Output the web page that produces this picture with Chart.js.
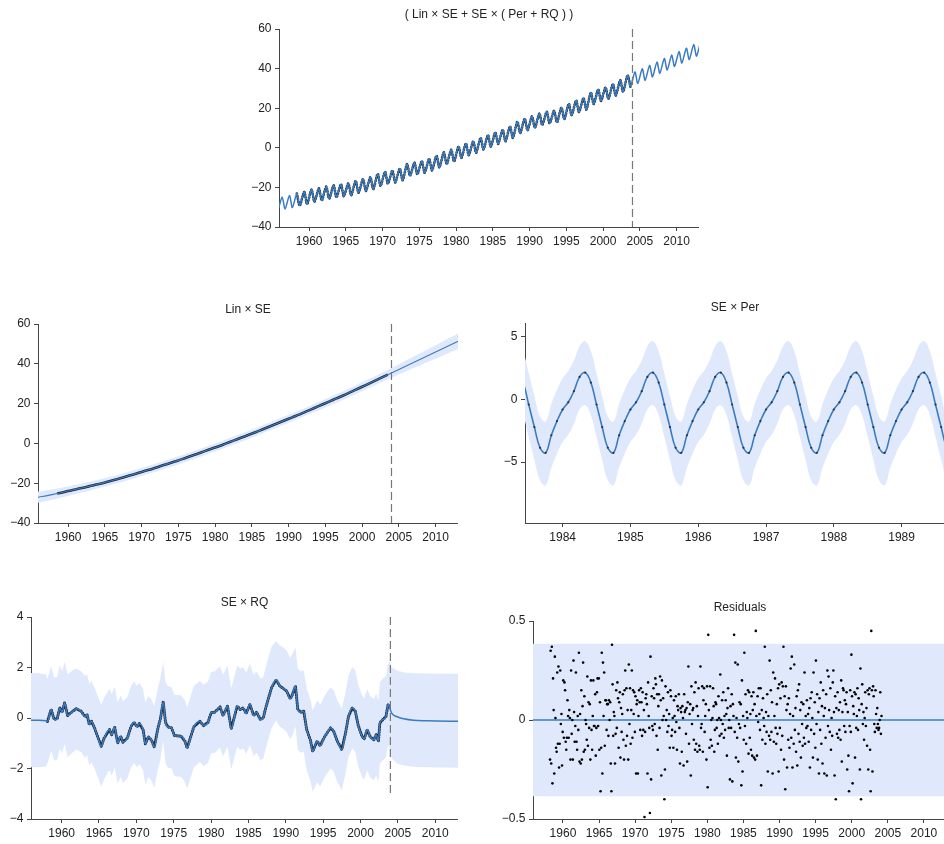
<!DOCTYPE html>
<html>
<head>
<meta charset="utf-8">
<script src="https://cdn.jsdelivr.net/npm/chart.js@4.4.1/dist/chart.umd.min.js"></script>
<style>
  html, body { margin: 0; padding: 0; background: #fff; }
  body { width: 944px; height: 844px; position: relative; overflow: hidden; }
  canvas { position: absolute; }
</style>
</head>
<body>
<canvas id="full"></canvas>
<canvas id="lin"></canvas>
<canvas id="per"></canvas>
<canvas id="rq"></canvas>
<canvas id="res"></canvas>
<script>
// ------------ DATA ------------

const YEAR_TICKS = [1960, 1965, 1970, 1975, 1980, 1985, 1990, 1995, 2000, 2005, 2010];
const BIG_Y_TICKS = [-40, -20, 0, 20, 40, 60];
const PER_X_TICKS = [1984, 1985, 1986, 1987, 1988, 1989];
const PER_Y_TICKS = [-5, 0, 5];
const RQ_Y_TICKS = [-4, -2, 0, 2, 4];
const RES_Y_TICKS = [-0.5, 0, 0.5];

const OBS_START = 1958.2;
const OBS_END = 2004.0;
const FORECAST_START = 2004;

// full model: one seasonal peak (May) and one trough (Sep/Oct) per year, from 1955
const FULL_FIRST_YEAR = 1955;
const PEAK_PHASE = 0.33;
const TROUGH_PHASE = 0.72;
const FULL_PEAK = [-25.4, -24.8, -24.1, -23.1, -22.3, -21.1, -20.5, -19.6, -19.0, -18.4,
  -18.0, -16.7, -15.8, -14.9, -13.2, -12.1, -11.5, -10.5, -8.2, -7.5,
  -6.7, -5.5, -4.0, -2.3, -1.0, 0.7, 2.2, 3.3, 5.0, 6.4,
  7.8, 9.1, 10.8, 13.2, 14.7, 15.9, 17.3, 18.2, 18.7, 20.3,
  22.2, 23.9, 25.1, 27.9, 29.5, 30.5, 32.2, 34.1, 36.6, 38.3,
  39.9, 41.6, 43.3, 45.1, 46.8, 48.6, 50.3, 52.1, 53.8];
const FULL_TROUGH = [-31.5, -30.9, -30.2, -29.2, -28.4, -27.2, -26.6, -25.7, -25.0, -24.4,
  -24.0, -22.7, -21.8, -20.9, -19.2, -18.1, -17.5, -16.4, -14.1, -13.4,
  -12.6, -11.4, -9.9, -8.2, -6.9, -5.1, -3.7, -2.5, -0.8, 0.6,
  2.0, 3.3, 5.0, 7.4, 8.9, 10.1, 11.5, 12.4, 12.9, 14.5,
  16.5, 18.1, 19.3, 22.1, 23.7, 24.7, 26.4, 28.3, 30.9, 32.5,
  34.1, 35.8, 37.6, 39.3, 41.1, 42.8, 44.6, 46.3, 48.1];

// Lin x SE: mid-year values from 1955.5
const TREND_START = 1955.5;
const TREND = [-27.3, -26.7, -26.0, -25.2, -24.4, -23.5, -22.7, -21.9, -21.0, -20.1,
  -19.1, -18.1, -17.1, -16.0, -14.9, -13.8, -12.7, -11.5, -10.3, -9.1,
  -7.9, -6.6, -5.3, -4.0, -2.7, -1.4, 0.0, 1.4, 2.8, 4.2,
  5.6, 7.1, 8.6, 10.1, 11.6, 13.1, 14.6, 16.2, 17.8, 19.4,
  21.0, 22.6, 24.2, 25.9, 27.6, 29.3, 31.05, 32.8, 34.55, 36.3,
  38.05, 39.8, 41.55, 43.3, 45.05, 46.8, 48.55, 50.3, 52.05];
const LIN_BAND_YEARS = [1955, 1958, 1962, 1966, 1970, 1974, 1978, 1982, 1986, 1990, 1994, 1998, 2002, 2005, 2009, 2014];
const LIN_HI = [-24.7, -23.0, -20.0, -16.5, -12.35, -7.7, -2.65, 2.7, 8.35, 14.35, 20.7, 27.25, 34.2, 39.8, 47.4, 57.0];
const LIN_LO = [-30.5, -28.2, -24.6, -20.7, -16.35, -11.7, -6.65, -1.3, 4.35, 10.35, 16.5, 22.85, 29.6, 34.6, 41.0, 49.0];

// SE x Per: monthly values from May 1983
const PER_START = 1983 + 4 / 12;
const PER_MID = [2.14, 1.35, -0.40, -2.20, -3.85, -4.25, -2.85, -1.72,
  -0.80, -0.22, 0.66, 1.80, 2.14, 1.35, -0.40, -2.20, -3.85, -4.25, -2.85, -1.72,
  -0.80, -0.22, 0.66, 1.80, 2.14, 1.35, -0.40, -2.20, -3.85, -4.25, -2.85, -1.72,
  -0.80, -0.22, 0.66, 1.80, 2.14, 1.35, -0.40, -2.20, -3.85, -4.25, -2.85, -1.72,
  -0.80, -0.22, 0.66, 1.80, 2.14, 1.35, -0.40, -2.20, -3.85, -4.25, -2.85, -1.72,
  -0.80, -0.22, 0.66, 1.80, 2.14, 1.35, -0.40, -2.20, -3.85, -4.25, -2.85, -1.72,
  -0.80, -0.22, 0.66, 1.80, 2.14, 1.35, -0.40, -2.20, -3.85, -4.25];
const PER_HI = [4.65, 3.85, 2.10, 0.30, -1.35, -1.75, -0.35, 0.78,
  1.70, 2.28, 3.10, 4.25, 4.65, 3.85, 2.10, 0.30, -1.35, -1.75, -0.35, 0.78,
  1.70, 2.28, 3.10, 4.25, 4.65, 3.85, 2.10, 0.30, -1.35, -1.75, -0.35, 0.78,
  1.70, 2.28, 3.10, 4.25, 4.65, 3.85, 2.10, 0.30, -1.35, -1.75, -0.35, 0.78,
  1.70, 2.28, 3.10, 4.25, 4.65, 3.85, 2.10, 0.30, -1.35, -1.75, -0.35, 0.78,
  1.70, 2.28, 3.10, 4.25, 4.65, 3.85, 2.10, 0.30, -1.35, -1.75, -0.35, 0.78,
  1.70, 2.28, 3.10, 4.25, 4.65, 3.85, 2.10, 0.30, -1.35, -1.75];
const PER_LO = [-0.46, -1.25, -3.00, -4.80, -6.45, -6.85, -5.45, -4.32,
  -3.40, -2.82, -1.94, -0.80, -0.46, -1.25, -3.00, -4.80, -6.45, -6.85, -5.45, -4.32,
  -3.40, -2.82, -1.94, -0.80, -0.46, -1.25, -3.00, -4.80, -6.45, -6.85, -5.45, -4.32,
  -3.40, -2.82, -1.94, -0.80, -0.46, -1.25, -3.00, -4.80, -6.45, -6.85, -5.45, -4.32,
  -3.40, -2.82, -1.94, -0.80, -0.46, -1.25, -3.00, -4.80, -6.45, -6.85, -5.45, -4.32,
  -3.40, -2.82, -1.94, -0.80, -0.46, -1.25, -3.00, -4.80, -6.45, -6.85, -5.45, -4.32,
  -3.40, -2.82, -1.94, -0.80, -0.46, -1.25, -3.00, -4.80, -6.45, -6.85];

// SE x RQ
const RQ_YEARS = [1955.5, 1957.0, 1957.9, 1958.1, 1958.6, 1959.0, 1959.4, 1959.75, 1960.06, 1960.4,
  1960.8, 1961.5, 1961.95, 1962.6, 1963.15, 1963.4, 1963.7, 1964.0, 1964.4, 1964.8,
  1965.3, 1965.7, 1966.4, 1966.7, 1967.1, 1967.5, 1967.9, 1968.2, 1968.8, 1969.3,
  1969.7, 1970.1, 1970.4, 1970.9, 1971.2, 1971.6, 1972.0, 1972.4, 1972.9, 1973.2,
  1973.6, 1973.9, 1974.2, 1974.7, 1975.1, 1976.0, 1976.5, 1976.8, 1977.3, 1977.7,
  1978.5, 1979.0, 1979.6, 1980.0, 1980.5, 1981.2, 1981.6, 1982.2, 1982.7, 1983.5,
  1983.9, 1984.3, 1984.7, 1985.2, 1985.7, 1986.1, 1986.6, 1987.0, 1987.2, 1987.7,
  1988.1, 1988.7, 1989.2, 1989.7, 1990.1, 1990.6, 1990.9, 1991.3, 1991.6, 1992.0,
  1992.4, 1992.8, 1993.3, 1993.6, 1994.2, 1994.6, 1995.1, 1995.6, 1996.0, 1996.4,
  1996.9, 1997.5, 1998.0, 1998.4, 1998.9, 1999.3, 1999.7, 2000.2, 2000.5, 2000.9,
  2001.3, 2001.8, 2002.1, 2002.4, 2002.6, 2003.0, 2003.4, 2003.7, 2003.9, 2004.2,
  2004.9, 2005.8, 2007.1, 2008.9, 2013.5];
const RQ_MID = [-0.09, -0.09, -0.11, -0.14, 0.34, -0.06, -0.03, 0.40, 0.23, 0.60,
  0.10, 0.27, 0.37, 0.27, 0.05, 0.14, -0.26, -0.13, -0.39, -0.72,
  -1.12, -0.79, -0.46, -0.66, -0.37, -0.99, -0.72, -0.96, -0.79, -0.33,
  -0.17, -0.35, -0.22, -0.46, -1.02, -0.75, -0.86, -1.15, -0.39, -0.06,
  0.63, -0.17, -0.35, -0.39, -0.70, -0.72, -0.92, -1.19, -0.72, -0.35,
  -0.13, -0.30, -0.17, 0.21, 0.23, 0.44, 0.10, 0.47, -0.43, 0.47,
  0.34, 0.40, 0.18, 0.54, 0.10, 0.23, -0.06, 0.00, 0.27, 0.80,
  1.20, 1.51, 1.27, 1.16, 1.07, 0.76, 0.94, 1.27, 0.34, 0.23,
  0.27, -0.46, -0.88, -1.32, -0.92, -1.10, -0.79, -0.56, -0.39, -0.52,
  -0.92, -1.25, -0.59, 0.07, 0.40, 0.27, -0.30, -0.72, -0.83, -0.46,
  -0.75, -0.86, -0.66, -0.92, -0.19, -0.06, 0.05, 0.54, 0.40, 0.18,
  0.05, -0.03, -0.09, -0.11, -0.13];
const RQ_HI = [1.78, 1.77, 1.72, 1.55, 2.05, 1.60, 1.62, 2.10, 1.85, 2.22,
  1.72, 1.90, 1.95, 1.85, 1.66, 1.75, 1.36, 1.46, 1.20, 0.90,
  0.52, 0.80, 1.15, 0.95, 1.25, 0.62, 0.90, 0.66, 0.82, 1.28,
  1.45, 1.27, 1.40, 1.15, 0.60, 0.86, 0.75, 0.47, 1.22, 1.56,
  2.22, 1.44, 1.27, 1.22, 0.92, 0.90, 0.70, 0.42, 0.90, 1.27,
  1.48, 1.32, 1.45, 1.82, 1.85, 2.05, 1.72, 2.08, 1.18, 2.08,
  1.96, 2.01, 1.80, 2.15, 1.72, 1.85, 1.56, 1.62, 1.88, 2.42,
  2.82, 3.05, 2.88, 2.78, 2.68, 2.38, 2.55, 2.80, 1.96, 1.85,
  1.88, 1.15, 0.74, 0.30, 0.70, 0.52, 0.82, 1.06, 1.22, 1.10,
  0.70, 0.37, 1.03, 1.68, 2.02, 1.88, 1.32, 0.90, 0.78, 1.15,
  0.86, 0.75, 0.96, 0.70, 1.42, 1.56, 1.66, 2.15, 2.25, 2.00,
  1.88, 1.80, 1.77, 1.76, 1.75];
const RQ_LO = [-1.95, -1.95, -1.93, -1.80, -1.30, -1.68, -1.66, -1.22, -1.40, -1.02,
  -1.55, -1.36, -1.25, -1.35, -1.58, -1.46, -1.88, -1.75, -2.00, -2.32,
  -2.72, -2.42, -2.06, -2.28, -1.97, -2.60, -2.33, -2.57, -2.40, -1.95,
  -1.78, -1.96, -1.82, -2.07, -2.63, -2.36, -2.47, -2.76, -2.00, -1.67,
  -0.90, -1.78, -1.96, -2.00, -2.31, -2.33, -2.53, -2.80, -2.33, -1.96,
  -1.74, -1.91, -1.78, -1.40, -1.38, -1.17, -1.51, -1.14, -2.04, -1.14,
  -1.27, -1.21, -1.43, -1.07, -1.51, -1.38, -1.67, -1.61, -1.34, -0.81,
  -0.41, -0.10, -0.34, -0.45, -0.54, -0.85, -0.67, -0.34, -1.27, -1.38,
  -1.34, -2.07, -2.49, -2.93, -2.53, -2.71, -2.40, -2.17, -2.00, -2.13,
  -2.53, -2.86, -2.20, -1.54, -1.21, -1.34, -1.91, -2.33, -2.44, -2.07,
  -2.36, -2.47, -2.27, -2.53, -1.80, -1.67, -1.56, -1.07, -1.22, -1.60,
  -1.80, -1.88, -1.93, -1.95, -1.97];
const RQ_DASH = [4, -3];

// Residuals: monthly from March 1958
const RES_START = 1958.21;
const RESIDUALS = [
  -0.20, 0.35, -0.22, 0.37, -0.32, 0.21, 0.05, -0.27, 0.32, 0.01, -0.14, -0.16,
  0.24, -0.12, 0.27, -0.24, -0.12, 0.25, -0.02, 0.03, -0.23, -0.06, 0.20, -0.09,
  0.19, 0.15, -0.11, -0.15, -0.09, 0.10, 0.02, -0.09, 0.05, 0.01, -0.20, 0.25,
  -0.07, 0.00, -0.20, 0.30, 0.04, -0.11, -0.03, 0.24, -0.11, -0.15, 0.02, -0.05,
  0.34, -0.21, 0.03, -0.22, 0.15, -0.20, 0.07, 0.29, -0.16, 0.12, -0.15, 0.00,
  -0.02, -0.10, 0.22, -0.13, 0.09, -0.04, 0.08, -0.20, 0.20, -0.05, -0.15, 0.02,
  0.20, -0.03, -0.03, 0.13, -0.18, -0.04, 0.14, 0.21, -0.03, 0.21, -0.15, 0.09,
  -0.36, -0.14, 0.34, -0.27, 0.29, 0.02, 0.24, -0.13, 0.10, 0.10, -0.05, 0.08,
  0.08, -0.08, 0.10, 0.00, 0.09, -0.22, -0.36, 0.38, 0.18, -0.08, 0.04, 0.02,
  -0.22, -0.07, 0.15, -0.04, 0.19, 0.11, -0.14, 0.09, 0.14, -0.19, 0.06, -0.06,
  0.03, 0.13, -0.10, -0.20, 0.15, 0.25, -0.13, 0.16, -0.08, 0.05, -0.20, 0.28,
  -0.02, 0.16, -0.12, 0.05, 0.25, -0.09, 0.15, 0.03, 0.14, -0.06, 0.12, -0.27,
  0.08, 0.10, -0.27, 0.02, 0.15, 0.09, -0.05, 0.16, 0.09, -0.08, 0.14, -0.05,
  0.05, -0.49, -0.06, 0.11, 0.13, 0.08, -0.27, 0.19, 0.02, -0.04, -0.47, 0.32,
  -0.30, 0.12, -0.03, -0.05, 0.16, 0.11, -0.02, 0.21, 0.18, -0.08, 0.13, -0.15,
  0.07, 0.13, -0.04, 0.22, 0.10, -0.28, 0.20, 0.00, 0.11, 0.02, -0.40, -0.25,
  0.17, 0.00, 0.05, -0.06, 0.14, -0.03, 0.03, -0.14, 0.15, 0.12, -0.08, -0.05,
  0.01, -0.14, 0.10, 0.02, -0.06, 0.12, -0.01, -0.15, 0.07, 0.05, 0.13, -0.04,
  -0.22, 0.06, 0.04, -0.16, 0.07, 0.01, -0.23, 0.13, 0.04, 0.05, -0.07, 0.06,
  -0.21, 0.09, 0.27, -0.12, 0.03, 0.08, -0.28, 0.17, -0.02, 0.05, 0.06, -0.10,
  0.14, -0.15, 0.19, -0.12, 0.07, -0.16, 0.02, 0.16, -0.13, -0.15, 0.27, -0.04,
  -0.02, 0.17, -0.16, 0.10, 0.16, -0.06, 0.02, 0.08, -0.20, 0.17, -0.34, 0.43,
  0.05, -0.14, 0.17, -0.10, 0.00, -0.13, 0.01, 0.16, 0.07, -0.16, -0.05, 0.09,
  0.08, -0.04, 0.00, -0.12, 0.12, 0.01, -0.08, 0.23, 0.00, -0.07, 0.10, -0.02,
  0.14, -0.09, 0.02, -0.05, 0.10, 0.03, -0.18, 0.06, 0.16, -0.04, 0.00, -0.30,
  0.07, -0.04, 0.13, -0.31, 0.08, 0.02, 0.43, -0.06, 0.29, -0.19, 0.01, -0.09,
  0.28, -0.21, -0.02, 0.09, -0.04, 0.08, -0.33, 0.20, -0.26, 0.02, -0.10, 0.34,
  -0.03, 0.13, -0.12, 0.04, 0.01, 0.15, -0.17, 0.14, -0.09, 0.03, -0.15, 0.12,
  -0.18, 0.05, 0.14, -0.19, 0.08, -0.20, 0.45, 0.02, -0.18, 0.12, -0.01, 0.16,
  0.03, -0.05, 0.16, -0.33, 0.05, -0.10, 0.11, 0.01, -0.03, 0.37, -0.12, 0.04,
  -0.06, 0.13, -0.26, 0.02, -0.08, 0.30, -0.10, 0.15, -0.06, 0.09, -0.27, 0.24,
  -0.11, 0.02, 0.21, -0.04, -0.12, 0.08, -0.07, 0.16, -0.26, 0.18, -0.04, 0.11,
  -0.15, 0.19, -0.08, 0.17, 0.37, -0.20, 0.12, -0.35, 0.17, 0.05, -0.24, 0.08,
  -0.10, 0.11, -0.14, 0.03, 0.26, -0.09, 0.32, -0.24, 0.02, -0.12, 0.28, -0.05,
  0.06, -0.16, 0.12, -0.23, 0.15, -0.07, 0.18, -0.11, 0.05, -0.19, 0.09, -0.02,
  -0.13, 0.08, -0.09, 0.24, -0.12, 0.02, -0.04, 0.10, -0.03, 0.03, -0.11, 0.06,
  -0.24, 0.11, -0.05, 0.14, 0.01, -0.19, 0.24, -0.07, 0.09, -0.14, 0.30, -0.02,
  0.13, -0.20, 0.04, -0.27, 0.11, -0.05, 0.19, -0.12, 0.07, -0.22, 0.15, 0.02,
  -0.27, 0.06, -0.09, 0.13, -0.28, 0.25, -0.03, 0.22, 0.05, -0.06, 0.16, -0.15,
  0.01, -0.08, 0.19, 0.25, 0.04, -0.28, 0.12, -0.40, 0.06, -0.07, 0.14, -0.09,
  0.05, -0.05, 0.09, -0.10, 0.20, -0.21, 0.04, 0.16, 0.15, -0.03, 0.10, -0.06,
  0.08, 0.14, -0.25, 0.04, -0.18, -0.36, -0.03, 0.15, -0.06, 0.33, 0.12, -0.32,
  0.07, 0.03, 0.14, -0.19, 0.13, -0.04, 0.02, 0.16, -0.05, 0.11, 0.05, -0.25,
  0.26, -0.40, 0.08, 0.18, -0.02, 0.04, -0.10, 0.01, 0.14, -0.03, 0.06, -0.13,
  0.15, -0.25, 0.13, 0.16, -0.15, -0.36, 0.45, 0.15, -0.26, 0.17, 0.12, -0.02,
  -0.06, 0.15, 0.03, -0.04, 0.06, -0.02, -0.05, -0.04, 0.00, 0.14, -0.07, 0.02
];
const RES_BAND_YEARS = [1955, 2014];
const RES_HI = [0.385, 0.385];
const RES_LO = [-0.385, -0.385];
const RES_ZERO = [0, 0];

// ------------ LOOK ------------

const BLUE = '#3a7cc2';
const DARK = '#1e2a36';
const BAND = 'rgb(224,233,252)';
const AXIS = '#444';
const TEXT = '#222';
const DASH = '#777';
const FONT = { family: '"Liberation Sans", Arial, Helvetica, sans-serif', size: 12 };
const YW = 44;   // y axis box width
const XH = 30;   // x axis box height

// ------------ HELPERS ------------

const fmt = v => String(v).replace('-', '\u2212');
const paired = (xs, ys) => ys.map((y, i) => ({ x: xs[i], y: y }));
const monthly = (start, ys) => ys.map((y, i) => ({ x: start + i / 12, y: y }));
const between = (pts, a, b) => pts.filter(p => p.x >= a && p.x <= b);

function axis(min, max, ticks, isX) {
    return {
        type: 'linear', min: min, max: max,
        border: { display: true, color: AXIS, width: 1 },
        grid: { display: true, drawOnChartArea: false, drawTicks: true, tickLength: 4, color: AXIS },
        ticks: { font: FONT, color: TEXT, padding: 3.5, maxRotation: 0, autoSkip: false, callback: fmt },
        afterBuildTicks: s => { s.ticks = ticks.map(v => ({ value: v })); },
        afterFit: s => { if (isX) s.height = XH; else s.width = YW; }
    };
}

function line(data, color, width, extra) {
    return Object.assign({ data: data, borderColor: color, borderWidth: width, pointRadius: 0,
        fill: false, tension: 0, order: 2, borderJoinStyle: 'round' }, extra || {});
}

// dark dotted trace for the observed stretch
function observed(data, width, tension) {
    return line(data, DARK, width, { borderDash: [0.5, 2.2], borderCapStyle: 'round', order: 3, tension: tension });
}

function band(lo, hi, tension) {
    return [
        { data: lo, borderWidth: 0, borderColor: 'rgba(0,0,0,0)', pointRadius: 0, fill: false, tension: tension, order: 9 },
        { data: hi, borderWidth: 0, borderColor: 'rgba(0,0,0,0)', pointRadius: 0, fill: '-1', backgroundColor: BAND, tension: tension, order: 9 }
    ];
}

function panel(id, box, title, datasets, xAxis, yAxis) {
    const c = document.getElementById(id);
    const left = box.l - YW, top = box.ty - 10;
    c.width = box.r - left;
    c.height = box.b + XH - top;
    c.style.left = left + 'px';
    c.style.top = top + 'px';
    new Chart(c, {
        type: 'line',
        data: { datasets: datasets },
        options: {
            responsive: false, animation: false, devicePixelRatio: 1,
            layout: { padding: 0 },
            plugins: {
                legend: { display: false },
                tooltip: { enabled: false },
                title: { display: true, text: title, fullSize: false, color: TEXT, font: Object.assign({ weight: 'normal' }, FONT),
                    padding: { top: 2.8, bottom: box.t - box.ty + 10 - 17.2 } }
            },
            scales: { x: xAxis, y: yAxis }
        }
    });
}

// ------------ CHARTS ------------

const fullPts = [];
FULL_PEAK.forEach((p, i) => {
    fullPts.push({ x: FULL_FIRST_YEAR + i + PEAK_PHASE, y: p });
    fullPts.push({ x: FULL_FIRST_YEAR + i + TROUGH_PHASE, y: FULL_TROUGH[i] });
});
const trendPts = TREND.map((y, i) => ({ x: TREND_START + i, y: y }));
const rqPts = paired(RQ_YEARS, RQ_MID);
const forecastLine = ys => line(paired([FORECAST_START, FORECAST_START], ys), DASH, 1.2, { borderDash: [8, 4], order: 0 });

panel('full', { l: 279, t: 29, r: 699, b: 227, ty: 15 }, '( Lin \u00d7 SE + SE \u00d7 ( Per + RQ ) )', [
    observed(between(fullPts, OBS_START, OBS_END), 2.6, 0.25),
    line(fullPts, BLUE, 1.5, { tension: 0.25 }),
    forecastLine([60, -40])
], axis(1955.9, 2013.05, YEAR_TICKS, true), axis(-40, 60, BIG_Y_TICKS, false));

panel('lin', { l: 38, t: 324, r: 458, b: 523, ty: 310 }, 'Lin \u00d7 SE', [
    ...band(paired(LIN_BAND_YEARS, LIN_LO), paired(LIN_BAND_YEARS, LIN_HI), 0.4),
    line(between(trendPts, OBS_START, OBS_END), DARK, 2.6, { order: 3, tension: 0.4 }),
    line(trendPts, BLUE, 1.1, { tension: 0.4 }),
    forecastLine([60, -40])
], axis(1955.9, 2013.05, YEAR_TICKS, true), axis(-40, 60, BIG_Y_TICKS, false));

panel('per', { l: 525, t: 323, r: 949, b: 523, ty: 308 }, 'SE \u00d7 Per', [
    ...band(monthly(PER_START, PER_LO), monthly(PER_START, PER_HI), 0.4),
    line(monthly(PER_START, PER_MID), BLUE, 1.6, { tension: 0.4, pointRadius: 1.1,
        pointBackgroundColor: '#333', pointBorderWidth: 0 })
], axis(1983.445, 1989.64, PER_X_TICKS, true), axis(-9.85, 6.1, PER_Y_TICKS, false));

panel('rq', { l: 31, t: 617, r: 458, b: 819, ty: 603 }, 'SE \u00d7 RQ', [
    ...band(paired(RQ_YEARS, RQ_LO), paired(RQ_YEARS, RQ_HI), 0),
    observed(between(rqPts, 1958.1, OBS_END), 3, 0),
    line(rqPts, BLUE, 1.5, { cubicInterpolationMode: 'monotone' }),
    forecastLine(RQ_DASH)
], axis(1955.9, 2013.05, YEAR_TICKS, true), axis(-4, 4, RQ_Y_TICKS, false));

panel('res', { l: 533, t: 621, r: 951, b: 819, ty: 608 }, 'Residuals', [
    ...band(paired(RES_BAND_YEARS, RES_LO), paired(RES_BAND_YEARS, RES_HI), 0),
    line(paired(RES_BAND_YEARS, RES_ZERO), BLUE, 1.5),
    line(monthly(RES_START, RESIDUALS), '#000', 0, { showLine: false, pointRadius: 1.3,
        pointBackgroundColor: '#000', pointBorderWidth: 0, order: 1 })
], axis(1955.85, 2013.2, YEAR_TICKS, true), axis(-0.5, 0.5, RES_Y_TICKS, false));
</script>
</body>
</html>
